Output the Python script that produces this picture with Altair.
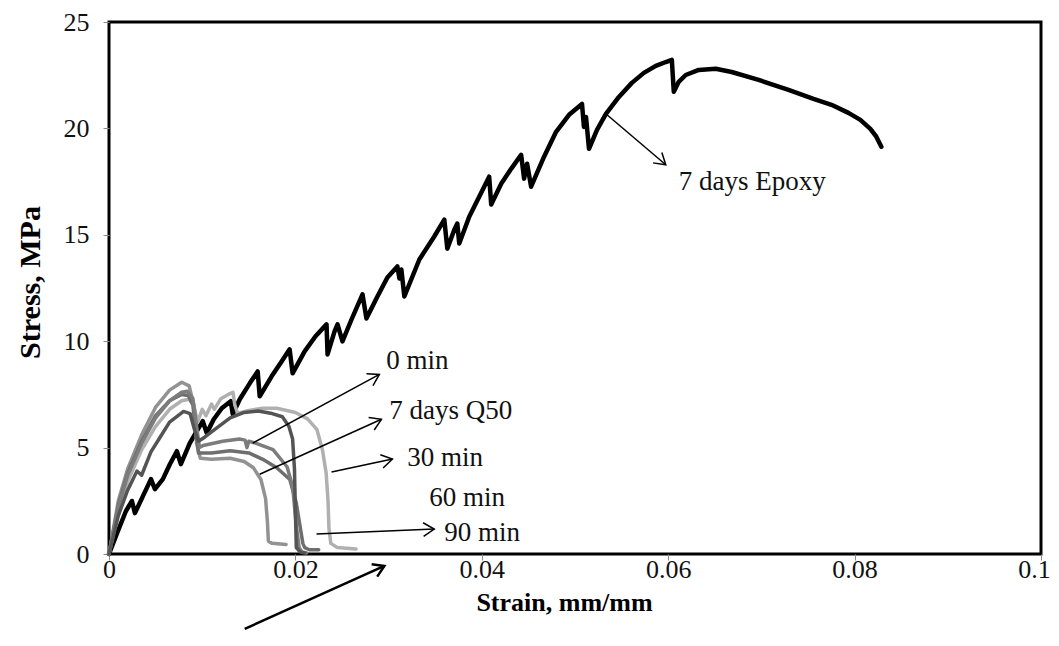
import math
import altair as alt
import pandas as pd

# ---------------- data ----------------
# 7 days Epoxy (black)
epoxy_x = [0, 0.00096, 0.00182, 0.00246, 0.00278, 0.00364, 0.00450, 0.00493, 0.00578, 0.00653,
           0.00728, 0.00771, 0.00867, 0.00953, 0.01006, 0.01049, 0.01124, 0.01210, 0.01306, 0.01328,
           0.01403, 0.01510, 0.01595, 0.01617, 0.01745, 0.01852, 0.01938, 0.01970, 0.02099, 0.02216,
           0.02334, 0.02345, 0.02420, 0.02452, 0.02505, 0.02602, 0.02720, 0.02762, 0.02880, 0.02987,
           0.03094, 0.03116, 0.03137, 0.03169, 0.03330, 0.03490, 0.03598, 0.03630, 0.03705, 0.03737,
           0.03758, 0.03865, 0.03972, 0.04079, 0.04101, 0.04208, 0.04315, 0.04422, 0.04454, 0.04486,
           0.04529, 0.04668, 0.04797, 0.04936, 0.05075, 0.05096, 0.05118, 0.05150, 0.05236, 0.05332,
           0.05471, 0.05610, 0.05739, 0.05867, 0.05974, 0.06039, 0.06060, 0.06113, 0.06188, 0.06328,
           0.06510, 0.06681, 0.06970, 0.07291, 0.07559, 0.07752, 0.07934, 0.08062, 0.08169, 0.08233,
           0.08287]
epoxy_y = [0, 1.08, 2.02, 2.49, 1.92, 2.72, 3.52, 3.05, 3.52, 4.22,
           4.83, 4.22, 5.21, 5.86, 6.24, 5.68, 6.33, 6.85, 7.18, 6.57,
           7.27, 8.02, 8.58, 7.41, 8.35, 9.05, 9.62, 8.49, 9.52, 10.23,
           10.79, 9.38, 10.46, 10.79, 9.99, 11.02, 12.20, 11.07, 12.10, 12.99,
           13.51, 12.95, 13.37, 12.10, 13.84, 14.92, 15.71, 14.35, 15.24, 15.53,
           14.59, 15.85, 16.79, 17.73, 16.42, 17.40, 18.10, 18.76, 17.64, 18.34,
           17.26, 18.67, 19.84, 20.64, 21.15, 20.07, 20.54, 19.04, 19.93, 20.68,
           21.48, 22.14, 22.61, 22.94, 23.12, 23.22, 21.72, 22.19, 22.51, 22.75,
           22.80, 22.65, 22.28, 21.81, 21.39, 21.11, 20.73, 20.40, 19.98, 19.61,
           19.14]

# 7 days Q50
q50_x = [0, 0.0010, 0.0020, 0.0035, 0.0050, 0.0065, 0.0078, 0.0086, 0.0091, 0.0094, 0.0098,
         0.0110, 0.0130, 0.0145, 0.0155, 0.0163, 0.0168, 0.0170, 0.0171, 0.0175, 0.0190]
q50_y = [0, 2.5, 4.0, 5.6, 6.9, 7.7, 8.07, 7.9, 7.0, 5.2, 4.5,
         4.45, 4.5, 4.35, 4.05, 3.5, 2.6, 1.5, 0.6, 0.5, 0.45]

# 0 min
m0_x = [0, 0.0010, 0.0020, 0.0035, 0.0050, 0.0065, 0.0078, 0.0084, 0.0090, 0.0094, 0.0097,
        0.0101, 0.0122, 0.0140, 0.0146, 0.0148, 0.0150, 0.0158, 0.0176, 0.0191, 0.0197,
        0.0201, 0.0204, 0.0207, 0.0212]
m0_y = [0, 2.2, 3.7, 5.2, 6.4, 7.2, 7.6, 7.65, 7.3, 6.0, 5.0,
        5.1, 5.3, 5.4, 5.35, 5.0, 5.3, 5.2, 4.9, 4.1, 3.2,
        1.3, 0.3, 0.1, 0.05]

# 30 min
m30_x = [0, 0.0010, 0.0020, 0.0035, 0.0050, 0.0065, 0.0078, 0.0086, 0.0091, 0.0095,
         0.0100, 0.0104, 0.0110, 0.0113, 0.0120, 0.0128, 0.0133, 0.0135, 0.0138, 0.0150,
         0.0165, 0.0180, 0.0200, 0.0213, 0.0223, 0.0229, 0.0233, 0.0235, 0.0236, 0.0238,
         0.0245, 0.0265]
m30_y = [0, 2.0, 3.4, 4.9, 6.0, 6.8, 7.2, 7.27, 7.0, 6.2,
         6.8, 6.5, 7.05, 6.8, 7.3, 7.5, 7.6, 7.0, 6.6, 6.75,
         6.85, 6.85, 6.65, 6.35, 5.86, 4.9, 3.8, 2.5, 1.2, 0.5,
         0.3, 0.23]

# 60 min
m60_x = [0, 0.0010, 0.0020, 0.0030, 0.0035, 0.0045, 0.0055, 0.0065, 0.0080, 0.0087,
         0.0092, 0.0096, 0.0103, 0.0115, 0.0130, 0.0145, 0.0160, 0.0175, 0.0186, 0.0193,
         0.0197, 0.0199, 0.0200, 0.0201, 0.0205, 0.0210]
m60_y = [0, 1.8, 3.0, 3.9, 3.7, 4.8, 5.5, 6.2, 6.7, 6.6,
         5.8, 5.3, 5.5, 5.9, 6.4, 6.65, 6.72, 6.6, 6.45, 6.0,
         5.4, 4.0, 2.0, 0.3, 0.1, 0.05]

# 90 min
m90_x = [0, 0.0010, 0.0020, 0.0035, 0.0050, 0.0065, 0.0078, 0.0085, 0.0090, 0.0093,
         0.0096, 0.0110, 0.0130, 0.0150, 0.0165, 0.0180, 0.0194, 0.0201, 0.0205, 0.0208,
         0.0210, 0.0215, 0.0225]
m90_y = [0, 2.3, 3.8, 5.3, 6.5, 7.2, 7.5, 7.45, 7.0, 5.8,
         4.75, 4.75, 4.85, 4.75, 4.45, 4.05, 3.5, 2.4, 1.3, 0.5,
         0.3, 0.2, 0.2]

gray_names = ["30 min", "7 days Q50", "90 min", "0 min", "60 min"]
gray_colors = ["#b0b0b0", "#929292", "#6e6e6e", "#7c7c7c", "#545454"]

# annotation labels and arrows
label_text = ["7 days Epoxy", "0 min", "7 days Q50", "30 min", "60 min", "90 min"]
label_x = [0.06113, 0.02976, 0.03008, 0.03201, 0.03437, 0.03597]
label_y = [17.47, 9.05, 6.71, 4.50, 2.63, 0.98]

arrow_tail_x = [0.05343, 0.01542, 0.01617, 0.02388, 0.02227, 0.01456]
arrow_tail_y = [20.64, 5.21, 3.75, 3.85, 0.94, -3.52]
arrow_head_x = [0.05974, 0.02901, 0.02923, 0.03041, 0.03490, 0.02955]
arrow_head_y = [18.29, 8.44, 6.33, 4.46, 1.17, -0.56]
arrow_width = [1.5, 1.5, 1.5, 1.5, 1.5, 2.5]

x_ticks = [0, 0.02, 0.04, 0.06, 0.08, 0.1]
y_ticks = [0, 5, 10, 15, 20, 25]

# ---------------- build ----------------
W, H = 932, 532
X_MAX, Y_MAX = 0.1, 25
FONT = "Liberation Serif"

def series_df(name, xs, ys):
    return pd.DataFrame({"series": name, "i": list(range(len(xs))), "strain": xs, "stress": ys})

gray_df = pd.concat([
    series_df("30 min", m30_x, m30_y),
    series_df("7 days Q50", q50_x, q50_y),
    series_df("90 min", m90_x, m90_y),
    series_df("0 min", m0_x, m0_y),
    series_df("60 min", m60_x, m60_y),
], ignore_index=True)
epoxy_df = series_df("7 days Epoxy", epoxy_x, epoxy_y)

arrows = pd.DataFrame({"tx": arrow_tail_x, "ty": arrow_tail_y,
                       "hx": arrow_head_x, "hy": arrow_head_y, "sw": arrow_width})
sx, sy = W / X_MAX, H / Y_MAX
arrows["ang"] = [
    (math.degrees(math.atan2(-(hy - ty) * sy, (hx - tx) * sx)) + 360) % 360
    for tx, ty, hx, hy in zip(arrow_tail_x, arrow_tail_y, arrow_head_x, arrow_head_y)
]
labels = pd.DataFrame({"text": label_text, "lx": label_x, "ly": label_y})

xscale = alt.Scale(domain=[0, X_MAX], nice=False, zero=False)
yscale = alt.Scale(domain=[0, Y_MAX], nice=False, zero=False)

x_axis = alt.Axis(values=x_ticks, format="~g", title="Strain, mm/mm", grid=False, domain=False,
                  labelFont=FONT, labelFontSize=26, labelColor="#111", labelPadding=-4,
                  labelOffset={"condition": {"test": "datum.value > 0.09", "value": -7}, "value": 0},
                  labelOverlap=False, labelFlush=False, labelBound=False,
                  tickColor="#8a8a8a", tickSize=6, tickWidth=1,
                  titleFont=FONT, titleFontSize=26, titleFontWeight="bold", titleColor="#000",
                  titleX=455, titleY=48, titleBaseline="middle", titleAnchor="middle")
y_axis = alt.Axis(values=y_ticks, format="d", title="Stress, MPa", grid=False, domain=False,
                  labelFont=FONT, labelFontSize=26, labelColor="#111", labelPadding=14,
                  labelOverlap=False, labelFlush=False, tickColor="#8a8a8a", tickSize=6, tickWidth=1,
                  titleFont=FONT, titleFontSize=30, titleFontWeight="bold", titleColor="#000",
                  titleX=-79, titleY=260, titleBaseline="middle", titleAnchor="middle", titleAngle=270)

epoxy_line = alt.Chart(epoxy_df).mark_line(color="#000000", strokeWidth=4.5, strokeJoin="round",
                                           strokeCap="round").encode(
    x=alt.X("strain:Q", scale=xscale, axis=x_axis),
    y=alt.Y("stress:Q", scale=yscale, axis=y_axis),
    order="i:Q",
)

gray_lines = alt.Chart(gray_df).mark_line(strokeWidth=3.5, strokeJoin="round", strokeCap="round").encode(
    x=alt.X("strain:Q", scale=xscale),
    y=alt.Y("stress:Q", scale=yscale),
    color=alt.Color("series:N", scale=alt.Scale(domain=gray_names, range=gray_colors), legend=None),
    detail="series:N",
    order="i:Q",
)

arrow_lines = alt.Chart(arrows).mark_rule(color="#000000").encode(
    x=alt.X("tx:Q", scale=xscale),
    y=alt.Y("ty:Q", scale=yscale),
    x2="hx:Q",
    y2="hy:Q",
    strokeWidth=alt.StrokeWidth("sw:Q", scale=None),
)

arrow_heads = alt.Chart(arrows).mark_point(
    shape="M-1,-0.62L0,0L-1,0.62", filled=False, color="#000000", size=480, opacity=1,
    strokeJoin="miter", strokeCap="butt"
).encode(
    x=alt.X("hx:Q", scale=xscale),
    y=alt.Y("hy:Q", scale=yscale),
    angle=alt.Angle("ang:Q", scale=None),
    strokeWidth=alt.StrokeWidth("sw:Q", scale=None),
)

texts = alt.Chart(labels).mark_text(font=FONT, fontSize=27, color="#111", align="left",
                                    baseline="middle").encode(
    x=alt.X("lx:Q", scale=xscale),
    y=alt.Y("ly:Q", scale=yscale),
    text="text:N",
)

chart = alt.layer(epoxy_line, gray_lines, arrow_lines, arrow_heads, texts).properties(
    width=W, height=H,
    autosize="none",
    padding={"left": 101, "top": 14, "right": 10, "bottom": 76},
).configure(background="white").configure_view(stroke="#000000", strokeWidth=3)

chart.save("out.html", embed_options={"renderer": "svg", "actions": False})
